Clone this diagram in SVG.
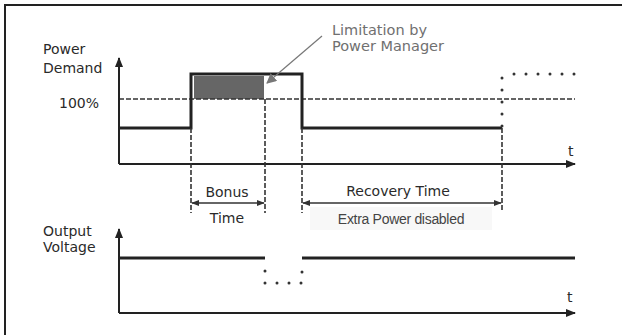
<svg xmlns="http://www.w3.org/2000/svg" width="622" height="335" viewBox="0 0 622 335">
<defs>
<style>
.lbl{font-family:"DejaVu Sans",sans-serif;font-size:14px;fill:#2a2a2a}
.note{font-family:"DejaVu Sans",sans-serif;font-size:14.5px;fill:#707070}
.small{font-family:"Liberation Sans",Arial,sans-serif;font-size:14px;fill:#444;letter-spacing:-0.3px}
.axis{stroke:#222;stroke-width:2;fill:none}
.sig{stroke:#222;stroke-width:3;fill:none}
.dash{stroke:#333;stroke-width:1.6;fill:none;stroke-dasharray:5 2}
.dot{stroke:#333;stroke-width:3;fill:none;stroke-dasharray:0 12;stroke-linecap:round}
.dim{stroke:#333;stroke-width:1.5;fill:none}
</style>
<marker id="ah" viewBox="0 0 10 10" refX="9" refY="5" markerWidth="10" markerHeight="10" markerUnits="userSpaceOnUse" orient="auto">
<path d="M0,1 L10,5 L0,9 Z" fill="#222"/>
</marker>
<marker id="dh" viewBox="0 0 10 10" refX="9" refY="5" markerWidth="8" markerHeight="8" markerUnits="userSpaceOnUse" orient="auto-start-reverse">
<path d="M0,1 L10,5 L0,9 Z" fill="#333"/>
</marker>
<marker id="gh" viewBox="0 0 10 10" refX="9" refY="5" markerWidth="10" markerHeight="10" markerUnits="userSpaceOnUse" orient="auto">
<path d="M0,0 L10,5 L0,10 Z" fill="#777"/>
</marker>
</defs>
<rect width="622" height="335" fill="#fff"/>
<path d="M5,335 V5 H622" stroke="#222" stroke-width="2" fill="none"/>

<g id="power-chart">
<text class="lbl" x="43" y="54">Power</text>
<text class="lbl" x="43" y="72.5">Demand</text>
<text class="lbl" x="59" y="108">100%</text>
<rect id="limited-area" x="194" y="76" width="70" height="23" fill="#666"/>
<line class="dash" x1="119" y1="99" x2="575" y2="99"/>
<path class="sig" d="M119,128 H191 V74 H302 V128 H502"/>
<line class="axis" x1="119" y1="164" x2="119" y2="58" marker-end="url(#ah)"/>
<line class="axis" x1="119" y1="164" x2="575" y2="164" marker-end="url(#ah)"/>
<text class="lbl" x="568" y="156">t</text>
<path class="dot" d="M502,126 V74"/>
<path class="dot" d="M514,74 H575"/>
</g>

<g id="limitation-note">
<text class="note" x="332" y="35">Limitation by</text>
<text class="note" x="332" y="51">Power Manager</text>
<line x1="322" y1="36" x2="267" y2="83" stroke="#777" stroke-width="1.2" marker-end="url(#gh)"/>
</g>

<g id="connectors">
<line class="dash" x1="191" y1="128" x2="191" y2="213"/>
<line class="dash" x1="265" y1="99" x2="265" y2="213"/>
<line class="dash" x1="302" y1="128" x2="302" y2="213"/>
<line class="dash" x1="502" y1="128" x2="502" y2="211"/>
<line class="dim" x1="192" y1="203" x2="264" y2="203" marker-start="url(#dh)" marker-end="url(#dh)"/>
<line class="dim" x1="303" y1="203" x2="501" y2="203" marker-start="url(#dh)" marker-end="url(#dh)"/>
</g>

<g id="bonus-time">
<text class="lbl" x="227" y="196.5" text-anchor="middle">Bonus</text>
<text class="lbl" x="227" y="222.5" text-anchor="middle">Time</text>
</g>

<g id="recovery-time">
<text class="lbl" x="398" y="196" text-anchor="middle">Recovery Time</text>
<rect x="310" y="207" width="182" height="23" fill="#f8f8f8"/>
<text class="small" x="401" y="224" text-anchor="middle">Extra Power disabled</text>
</g>

<g id="voltage-chart">
<text class="lbl" x="43" y="236">Output</text>
<text class="lbl" x="43" y="252">Voltage</text>
<line class="axis" x1="119" y1="313" x2="119" y2="229" marker-end="url(#ah)"/>
<line class="axis" x1="119" y1="313" x2="575" y2="313" marker-end="url(#ah)"/>
<text class="lbl" x="567" y="302">t</text>
<path class="sig" d="M119,258 H265"/>
<path class="sig" d="M302,258 H575"/>
<path class="dot" d="M265,271 V283 H302 V268"/>
</g>
</svg>
